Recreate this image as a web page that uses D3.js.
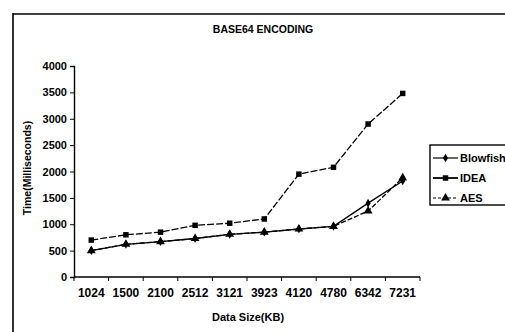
<!DOCTYPE html>
<html><head><meta charset="utf-8">
<script src="https://cdn.jsdelivr.net/npm/d3@7"></script>
<style>body{margin:0;background:#fff}svg{display:block}text{font-family:"Liberation Sans",Arial,sans-serif;fill:#000}</style>
</head><body><svg id="c" width="505" height="332"></svg>
<script>
const categories = ["1024","1500","2100","2512","3121","3923","4120","4780","6342","7231"];
const blowfish = [500,620,670,730,810,850,910,960,1400,1820];
const idea = [700,800,850,980,1020,1100,1950,2080,2900,3480];
const aes = [500,620,670,730,810,850,910,960,1250,1880];
const yTicks = [0,500,1000,1500,2000,2500,3000,3500,4000];
const seriesNames = ["Blowfish","IDEA","AES"];

const svg = d3.select("#c");
// frame
svg.append("line").attr("x1",13).attr("y1",14).attr("x2",505).attr("y2",14).attr("stroke","#000").attr("stroke-width",1.6);
svg.append("line").attr("x1",13).attr("y1",13).attr("x2",13).attr("y2",332).attr("stroke","#000").attr("stroke-width",1.6);

const x = d3.scaleBand().domain(categories).range([74,420]);
const y = d3.scaleLinear().domain([0,4000]).range([277,66]);

svg.append("text").attr("x",263).attr("y",33).attr("text-anchor","middle").attr("font-size",10.5).attr("font-weight","bold").text("BASE64 ENCODING");

// y axis
const ya = svg.append("g").attr("transform","translate(74,0)").call(d3.axisLeft(y).tickValues(yTicks).tickFormat(d3.format("d")).tickSize(4).tickPadding(3));
ya.selectAll("text").attr("font-size",11).attr("font-weight","bold").style("font-family","'Liberation Sans',Arial,sans-serif");
ya.select(".domain").attr("stroke-width",1.4);
// x axis with ticks at band boundaries
const xa = svg.append("g").attr("transform","translate(0,277)");
xa.append("line").attr("x1",74).attr("x2",420).attr("stroke","#000").attr("stroke-width",1.4);
const bounds = categories.map(c=>x(c)).concat([x(categories[categories.length-1])+x.bandwidth()]);
xa.selectAll("line.t").data(bounds).join("line").attr("class","t").attr("x1",d=>d).attr("x2",d=>d).attr("y1",0).attr("y2",4).attr("stroke","#000");
xa.selectAll("text").data(categories).join("text").attr("x",d=>x(d)+x.bandwidth()/2).attr("y",20)
  .attr("text-anchor","middle").attr("font-size",12).attr("font-weight","bold").text(d=>d);

svg.append("text").attr("x",248).attr("y",321).attr("text-anchor","middle").attr("font-size",11).attr("font-weight","bold").text("Data Size(KB)");
svg.append("text").attr("transform","translate(31,168) rotate(-90)").attr("text-anchor","middle").attr("font-size",10.5).attr("font-weight","bold").text("Time(Milliseconds)");

const cx = d=>x(d)+x.bandwidth()/2;
const line = vals => d3.line().x((v,i)=>cx(categories[i])).y(v=>y(v))(vals);
const styles = [
  {vals:blowfish, dash:null, sym:d3.symbolDiamond, size:22},
  {vals:idea, dash:"7,2", sym:d3.symbolSquare, size:30},
  {vals:aes, dash:"5,2", sym:d3.symbolTriangle, size:34}
];
styles.forEach(s=>{
  svg.append("path").attr("d",line(s.vals)).attr("fill","none").attr("stroke","#000").attr("stroke-width",1.3).attr("stroke-dasharray",s.dash);
  svg.selectAll(null).data(s.vals).join("path").attr("transform",(v,i)=>`translate(${cx(categories[i])},${y(v)})`)
    .attr("d",d3.symbol().type(s.sym).size(s.size)).attr("fill","#000");
});

// legend
const lg = svg.append("g");
lg.append("rect").attr("x",430).attr("y",145).attr("width",90).attr("height",60).attr("fill","#fff").attr("stroke","#000").attr("stroke-width",1.4);
seriesNames.forEach((n,i)=>{
  const yy = 158 + i*20;
  const s = styles[i];
  lg.append("line").attr("x1",433).attr("x2",458).attr("y1",yy).attr("y2",yy).attr("stroke","#000").attr("stroke-width",i==1?1.8:1.2).attr("stroke-dasharray",i==2?"3,2":null);
  lg.append("path").attr("transform",`translate(445.5,${yy})`).attr("d",d3.symbol().type(s.sym).size(s.size)).attr("fill","#000");
  lg.append("text").attr("x",460).attr("y",yy+4).attr("font-size",11).attr("font-weight","bold").text(n);
});
</script></body></html>
